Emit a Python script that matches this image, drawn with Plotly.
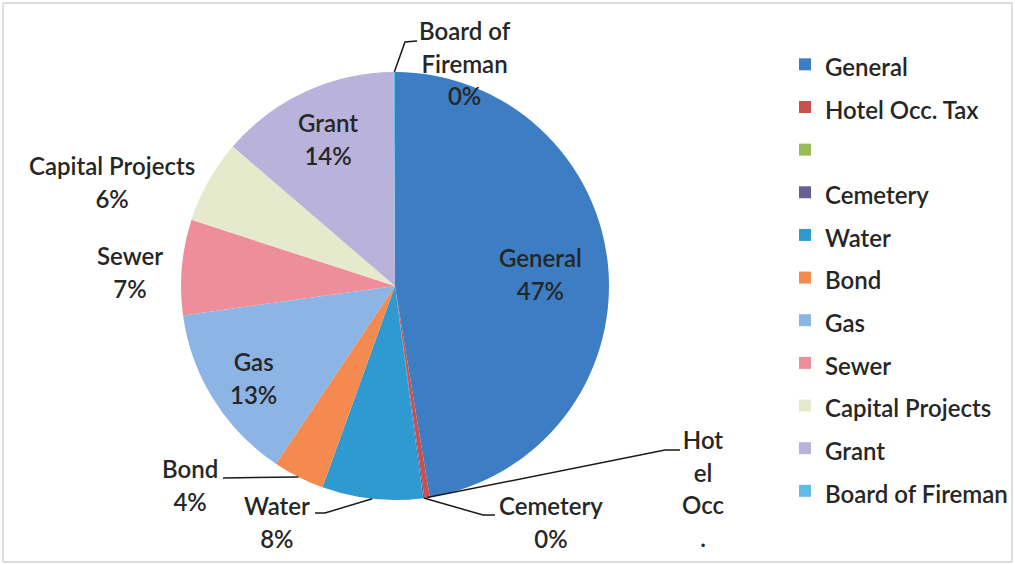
import math
import plotly.graph_objects as go

W, H = 1015, 565

# ---- data ----
categories = ["General", "Hotel Occ. Tax", " ", "Cemetery", "Water", "Bond",
              "Gas", "Sewer", "Capital Projects", "Grant", "Board of Fireman"]
values = [47.4, 0.4, 0.0, 0.1, 7.6, 3.9, 13.4, 7.2, 6.3, 13.6, 0.1]
colors = ["#3C7DC4", "#C8504D", "#9BBB59", "#6A5F93", "#2E9AD0", "#F58A50",
          "#8CB4E4", "#EE8E9A", "#E6EACC", "#B9B2DA", "#62BCE6"]

# label text as shown on the chart (Hotel label is wrapped/truncated in the original)
label_lines = {
    "General": ["General"],
    "Hotel Occ. Tax": ["Hot", "el", "Occ", "."],
    "Cemetery": ["Cemetery"],
    "Water": ["Water"],
    "Bond": ["Bond"],
    "Gas": ["Gas"],
    "Sewer": ["Sewer"],
    "Capital Projects": ["Capital Projects"],
    "Grant": ["Grant"],
    "Board of Fireman": ["Board of", "Fireman"],
}
show_pct = {"Hotel Occ. Tax": False}

# ---- layout constants (pixels) ----
CX, CY, R = 395, 286, 214
FONT = "Lato"
TXT = "#262626"
TXT_PX = 24
label_pos = {
    "General": (540, 274), "Grant": (328, 139), "Gas": (253, 378),
    "Capital Projects": (112, 182), "Sewer": (130, 272), "Bond": (190, 485),
    "Water": (277, 522), "Cemetery": (551, 522), "Hotel Occ. Tax": (703, 489),
    "Board of Fireman": (465, 63),
}
# leader line bends: list of pixel points from slice edge outwards
leader_bends = {
    "Board of Fireman": [(405, 42), (417, 41)],
    "Hotel Occ. Tax": [(665, 450), (680, 450)],
    "Cemetery": [(483, 515), (495, 515)],
    "Water": [(325, 513), (315, 513)],
    "Bond": [(223, 478)],
}


def px(x):
    return x / W


def py(y):
    return 1 - y / H


def span(s, size=TXT_PX):
    return f"<span style='font-size:{size}px'>{s}</span>"


total = sum(values)
fig = go.Figure()
fig.add_trace(go.Pie(
    labels=[span(c) for c in categories],
    values=values,
    sort=False,
    direction="clockwise",
    rotation=0,
    marker=dict(colors=colors, line=dict(width=0)),
    textinfo="none",
    hoverinfo="label+percent",
    domain=dict(x=[px(CX - R), px(CX + R)], y=[py(CY + R), py(CY - R)]),
))

annotations = []
shapes = []
cum = 0.0
for cat, v in zip(categories, values):
    mid = (cum + v / 2) / total * 2 * math.pi
    cum += v
    if cat not in label_pos:
        continue
    lines = list(label_lines[cat])
    if show_pct.get(cat, True):
        lines.append(f"{round(v / total * 100)}%")
    text = "<br>".join(span(l) for l in lines)
    lx, ly = label_pos[cat]
    annotations.append(dict(
        x=px(lx), y=py(ly), xref="paper", yref="paper", text=text,
        showarrow=False, xanchor="center", yanchor="middle",
        font=dict(family=FONT, size=25, color=TXT, weight=600),
    ))
    if cat in leader_bends:
        sx = CX + R * math.sin(mid)
        sy = CY - R * math.cos(mid)
        pts = [(sx, sy)] + leader_bends[cat]
        path = "M " + " L ".join(f"{px(x)},{py(y)}" for x, y in pts)
        shapes.append(dict(type="path", xref="paper", yref="paper", path=path,
                           line=dict(color="#1a1a1a", width=1.5)))

# chart border
shapes.append(dict(type="rect", xref="paper", yref="paper",
                   x0=px(3), y0=py(562), x1=px(1012), y1=py(3),
                   line=dict(color="#bdbdbd", width=1)))

fig.update_layout(
    width=W, height=H,
    margin=dict(l=0, r=0, t=0, b=0),
    paper_bgcolor="white", plot_bgcolor="white",
    showlegend=True,
    legend=dict(
        x=px(785), y=py(38), xanchor="left", yanchor="top",
        font=dict(family=FONT, size=30.5, color=TXT, weight=600),
        bgcolor="rgba(0,0,0,0)", traceorder="normal",
    ),
    annotations=annotations,
    shapes=shapes,
)

fig.write_html(
    "out.html",
    config={"displayModeBar": False},
    post_script="document.body.style.margin='0';document.body.style.overflow='hidden';",
)
